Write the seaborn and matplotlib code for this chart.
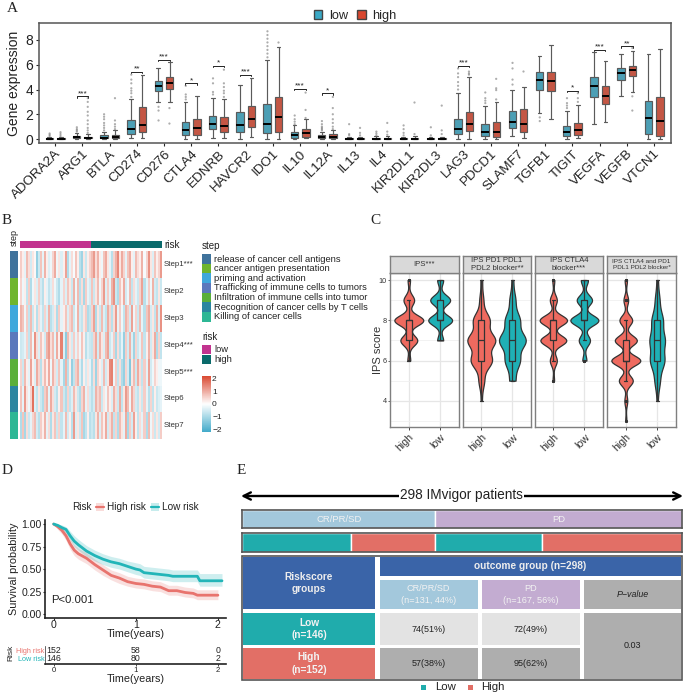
import numpy as np
import pandas as pd
import matplotlib
matplotlib.use("Agg")
import matplotlib.pyplot as plt
from matplotlib.colors import LinearSegmentedColormap, ListedColormap
from matplotlib.patches import Patch, Rectangle
import seaborn as sns

W, H = 685, 696

# ---- A: boxplots, [whisker low, q1, median, q3, whisker high]
genes = ["ADORA2A", "ARG1", "BTLA", "CD274", "CD276", "CTLA4", "EDNRB", "HAVCR2", "IDO1", "IL10", "IL12A", "IL13",
         "IL4", "KIR2DL1", "KIR2DL3", "LAG3", "PDCD1", "SLAMF7", "TGFB1", "TIGIT", "VEGFA", "VEGFB", "VTCN1"]
low_stats = [[0, .02, .04, .08, .16], [0, .08, .15, .25, .5], [0, .05, .12, .3, .6], [.1, .4, .8, 1.55, 3.2],
             [3.0, 3.9, 4.3, 4.7, 5.7], [0, .3, .7, 1.35, 3.0], [.1, .85, 1.2, 1.9, 3.3], [0, .55, 1.15, 2.15, 4.4],
             [0, .45, 1.2, 2.85, 6.4], [0, .1, .3, .55, 1.1], [0, .1, .2, .35, .6], [0, .01, .03, .07, .2],
             [0, .01, .03, .08, .22], [0, .01, .03, .07, .2], [0, .01, .03, .07, .2], [0, .4, .83, 1.64, 3.7],
             [0, .24, .54, 1.18, 2.7], [.24, .86, 1.37, 2.25, 3.95], [2.07, 4.0, 4.75, 5.4, 6.7], [0, .25, .56, 1.07, 2.3],
             [1.2, 3.4, 4.25, 5.0, 7.0], [3.5, 4.8, 5.3, 5.7, 6.9], [0, .37, 1.7, 3.1, 6.9]]
high_stats = [[0, .02, .04, .08, .16], [0, .05, .1, .2, .4], [0, .08, .18, .33, .7], [.1, .55, 1.1, 2.55, 5.2],
              [3.0, 4.05, 4.5, 5.0, 6.2], [0, .35, .9, 1.6, 3.45], [.1, .6, 1.05, 1.75, 3.2], [.2, 1.0, 1.65, 2.7, 4.9],
              [0, .6, 1.8, 3.4, 7.4], [.1, .2, .45, .8, 1.6], [0, .1, .2, .38, .7], [0, .01, .03, .07, .2],
              [0, .01, .03, .08, .24], [0, .01, .03, .07, .22], [0, .01, .03, .07, .2], [0, .67, 1.23, 2.2, 5.0],
              [0, .2, .6, 1.34, 3.0], [.1, .6, 1.18, 2.4, 4.2], [1.6, 3.9, 4.7, 5.45, 7.6], [.1, .35, .7, 1.26, 2.76],
              [1.4, 2.85, 3.5, 4.3, 6.33], [3.8, 5.05, 5.55, 5.93, 7.1], [0, .27, 1.48, 3.4, 7.27]]
low_fliers = [[.25, .35, .45], [.6, .7, .8, .95], [.7, .9, 1.1, 1.3, 1.6, 1.8, 2.0], [3.4, 3.7, 3.9, 4.1, 4.5, 4.8, 5.2],
              [2.6, 2.3, 1.5], [3.2, 3.4, 3.6, 4.3], [3.6, 3.8, 4.5, 4.9], [],
              [6.6, 6.9, 7.2, 7.5, 7.8, 8.1, 8.4, 8.7], [1.2, 1.4, 1.6, 1.9], [.7, .8, .9, 1.0, 1.2, 1.45], [.3, .4, 1.2],
              [.3, .45, .6], [.3, .5, .8, 1.1], [.3, .95], [4.0, 4.3, 4.6, 5.0, 5.3, 5.7],
              [2.9, 3.1, 3.3, 3.76], [4.4, 4.8, 5.7, 6.15], [1.75, 1.45], [2.5, 2.7, 2.9, 3.3],
              [], [], []]
high_fliers = [[.25, .4, .55], [.5, .7, .9, 1.2, 1.5, 1.9, 2.2, 2.6, 3.0, 3.3], [.8, 1.0, 1.2, 1.5, 3.3], [],
               [2.5, 1.25], [], [3.4, 3.7, 3.9, 4.2, 4.5, 5.6], [],
               [7.85], [1.7, 2.35, 3.75], [.8, 1.0, 1.3, 1.6, 2.0, 2.5, 3.4], [.3, .5, .9],
               [.35, .6, 1.3], [.4, 2.95], [.4, .7, 2.7], [5.2, 5.3, 5.45],
               [3.2, 3.95, 4.1, 4.86], [5.5], [], [3.0, 3.3, 3.7],
               [], [3.45, 2.3, 7.35], []]
bracket_genes = ["ARG1", "CD274", "CD276", "CTLA4", "EDNRB", "HAVCR2", "IL10", "IL12A", "LAG3", "TIGIT", "VEGFA", "VEGFB"]
bracket_heights = [3.45, 5.45, 6.4, 4.5, 5.9, 5.2, 4.05, 3.7, 5.9, 3.9, 7.2, 7.5]
bracket_labels = ["***", "**", "***", "*", "*", "***", "***", "*", "***", "*", "***", "**"]

# ---- B: heatmap, one row per step
step_names = ["Step1***", "Step2", "Step3", "Step4***", "Step5***", "Step6", "Step7"]
step_legend = ["release of cancer cell antigens", "cancer antigen presentation", "priming and activation",
               "Trafficking of immune cells to tumors", "Infiltration of immune cells into tumor",
               "Recognition of cancer cells by T cells", "Killing of cancer cells"]
step_colors = ["#3F739C", "#6FB52E", "#3FA8DC", "#5B78BC", "#5AAF3A", "#2A86A0", "#2DB795"]
step1 = [.6, .2, -.3, .8, .4, -.5, .3, .1, -1.2, -.6, .7, -.3, .9, .2, -.4, -.2, .5, 1.0, -.2, .3, -.4, .2, 1.1, -.9, -.3, .4, -.1, .7, .2, -.8, -1.1, .3, -.6, .2, .5,
         .8, 1.2, .4, .9, .2, -.2, .7, 1.0, .3, -.3, -.8, .5, .9, 1.4, .3, 1.0, .5, -.3, .7, 1.0, .2, -.3, .8, .4, .2, .9, -.1, .5, 1.3, .3, -.4, .7, .2, .5, 1.2]
step2 = [.5, -.2, .2, -.7, .6, -.9, -.2, .3, -.4, .6, -.5, -.8, .2, -.3, -.7, -.4, .4, -.2, -.6, -.9, -.3, .5, -.4, .7, .3, -.6, .9, -.2, .8, -.8, .4, -1.0, .6, -.3, -.5,
         .7, -.6, .3, .8, -.2, .5, 1.2, -.4, .6, -.3, .9, 1.3, -.6, -.9, .7, .2, 1.0, -.5, -.2, .8, -.7, .4, -.3, -.6, .5, 1.1, -.8, -.3, .6, -.2, .9, -.5, -.7, .3, -.6]
step3 = [.9, .7, -.2, .6, -.7, .8, -.6, .2, -.8, .4, -.3, -.7, .5, -.4, .9, -.8, -.5, .3, -.9, .6, -.3, .2, .7, -.4, .5, .8, -.6, -.2, .9, -.5, -.7, .3, .6, -.9, -.7,
         .5, 1.1, -.9, .3, -.6, .8, -.4, -.7, 1.0, .5, -.8, .4, 1.2, -.3, .6, -.2, -.7, .9, .6, -.5, 1.1, -.2, .5, -.6, .8, -.3, -.8, .7, 1.0, -.5, .3, -.7, .9, -.4, 1.3]
step4 = [-.6, -.5, -.3, .5, -.7, .8, -.2, 1.3, .4, -.4, .7, .2, -.5, .9, 1.2, .4, .8, -.3, 1.0, .2, 1.5, -.4, -1.3, .8, .3, -.5, .6, -.3, .5, -.2, .7, .2, -.8, -.4, -.6,
         -.7, .5, 1.0, -.5, .9, .3, -.4, .8, 1.1, -.6, -.3, .6, -1.0, .4, -.8, -.3, -1.2, .6, -.5, .9, -.4, -1.1, .5, -.6, -.3, .7, -.7, .2, .9, -.5, .3, 1.0, -.9, .5, -.7]
step5 = [.5, -.6, .8, .2, -.3, 1.1, .2, -.4, 1.0, .5, -.8, .3, .8, .2, 1.0, -.2, .9, .4, -.5, .7, -.3, -1.0, .9, -.8, .2, -1.2, -.7, .6, .9, -.4, -.9, .2, -.5, .3, -.3,
         -.9, .4, -1.1, .5, .2, -.4, .8, -.5, .3, 1.4, 1.5, -.2, .6, -.7, .4, -.9, -1.2, .5, -.5, -1.4, .3, .8, -.6, 1.0, .4, -.7, .6, -.3, 1.1, -.5, -.2, .5, .2, -.2, -.2]
step6 = [.7, -.3, 1.2, .3, -.2, .5, 1.7, -.4, -.7, .3, -.6, -.9, .6, .9, -.3, 1.0, .4, -.5, -.8, .2, .7, -.6, -.9, .5, -.7, -.4, .8, .3, -.6, -.9, .5, .9, -.3, .4, -.5,
         -.8, -.5, .9, .5, .8, -.6, .3, -.2, .7, .2, -.4, .9, .4, -.6, 1.0, -.7, .3, 1.2, .8, -.2, 1.0, .5, -.5, -.7, .3, -.6, .6, -.3, -.8, .5, -.7, .2, -.6, -.4, -.3]
step7 = [-.9, .7, -1.0, .4, -.6, -.3, .5, .8, -.5, -.8, .6, .2, .9, -.3, .4, -.9, .3, .7, -.6, .5, -.7, -.3, .8, -.5, .2, -.8, 1.2, -.4, .3, -.6, .7, -1.0, -.7, .2, -.8,
         -.6, -.8, .3, .9, -.4, .7, .2, 1.0, -.5, .4, .9, -.7, .5, -.9, .8, .3, -.3, 1.0, -1.0, .6, -.5, 1.1, .2, -.7, .4, -.3, .6, -.9, .8, -.2, .4, -.6, .3, -.5, .6]
risk_codes = [0] * 35 + [1] * 35

# ---- C: IPS scores, number of patients per integer score
ips_panels = ["IPS***", "IPS PD1 PDL1\nPDL2 blocker**", "IPS CTLA4\nblocker***", "IPS CTLA4 and PD1\nPDL1 PDL2 blocker*"]
ips_scores = [3, 4, 5, 6, 7, 8, 9, 10]
ips_high = [[0, 0, 0, 6, 35, 60, 22, 5], [0, 2, 10, 38, 50, 30, 7, 3], [0, 0, 3, 14, 52, 55, 14, 4], [2, 5, 24, 50, 38, 22, 8, 4]]
ips_low = [[0, 0, 0, 0, 15, 60, 50, 15], [0, 0, 10, 25, 45, 25, 10, 3], [0, 0, 0, 8, 22, 55, 30, 14], [0, 3, 14, 38, 40, 30, 12, 4]]
violin_width_high = [.92, .9, .88, .92]
violin_width_low = [.76, .86, .9, .5]

# ---- D: survival
km_time_high = [0, .05, .1, .15, .2, .25, .3, .4, .5, .6, .7, .8, .9, 1.0, 1.1, 1.2, 1.3, 1.4, 1.5, 1.6, 1.7, 1.75, 2.0]
km_high = [1, .97, .93, .87, .78, .71, .67, .62, .55, .49, .43, .40, .36, .34, .33, .31, .30, .26, .26, .24, .23, .21, .21]
km_high_up = [1, .99, .96, .92, .84, .77, .73, .68, .61, .55, .49, .46, .42, .40, .39, .37, .36, .32, .32, .30, .29, .27, .27]
km_high_lo = [1, .94, .89, .82, .72, .65, .61, .56, .49, .43, .38, .34, .31, .29, .28, .26, .25, .21, .21, .19, .18, .16, .16]
km_time_low = [0, .05, .1, .15, .2, .25, .3, .4, .5, .6, .7, .8, .9, 1.0, 1.05, 1.1, 1.2, 1.3, 1.4, 1.45, 1.75, 1.78, 2.05]
km_low = [1, .985, .96, .94, .87, .81, .77, .70, .65, .61, .58, .56, .53, .50, .49, .46, .45, .44, .43, .42, .42, .37, .37]
km_low_up = [1, 1, .99, .97, .92, .87, .83, .76, .71, .67, .64, .62, .59, .57, .56, .53, .52, .51, .50, .49, .49, .45, .45]
km_low_lo = [1, .97, .93, .90, .82, .75, .71, .64, .59, .55, .52, .50, .47, .44, .43, .40, .39, .38, .37, .36, .36, .31, .31]
risk_ticks = [0, 1, 2]
at_risk_high = [152, 58, 0]
at_risk_low = [146, 80, 2]

# ---- E: outcome counts
outcome_counts = [131, 167]
split_counts = [74, 57, 72, 95]

TEAL = "#20ACAC"
CORAL = "#E26F66"
BLUE = "#3A64A8"
LBLUE = "#A3C8DC"
PURPLE = "#C3ACD1"
GREY = "#AEAEAE"
LGREY = "#E3E3E3"


def px_ax(l, t, r, b):
    return fig.add_axes([l / W, 1 - b / H, (r - l) / W, (b - t) / H])


sns.set_theme(style="ticks")
plt.rcParams["font.family"] = ["Liberation Sans", "DejaVu Sans"]
plt.rcParams["axes.unicode_minus"] = True

fig = plt.figure(figsize=(W / 100, H / 100), dpi=100)

bg = px_ax(0, 0, W, H)
bg.set_xlim(0, W)
bg.set_ylim(H, 0)
bg.axis("off")

for letter, x, y in [("A", 7, 8), ("B", 2, 221), ("C", 370, 220), ("D", 2, 471), ("E", 237, 471)]:
    bg.text(x, y, letter, family="Liberation Serif", fontsize=11, ha="left", va="center", color="#222222")

# A ---------------------------------------------------------------
ax = px_ax(39, 23, 671, 143)
rows = []
for g, lo, hi in zip(genes, low_stats, high_stats):
    rows += [(g, "low", v) for v in lo] + [(g, "high", v) for v in hi]
box_df = pd.DataFrame(rows, columns=["gene", "group", "value"])
rows = []
for g, lo, hi in zip(genes, low_fliers, high_fliers):
    rows += [(g, "low", v) for v in lo] + [(g, "high", v) for v in hi]
flier_df = pd.DataFrame(rows, columns=["gene", "group", "value"])

sns.stripplot(data=flier_df, x="gene", y="value", hue="group", order=genes, hue_order=["low", "high"],
              palette=["#777777", "#777777"], dodge=True, jitter=False, size=1.6, alpha=.6, legend=False, ax=ax)
sns.boxplot(data=box_df, x="gene", y="value", hue="group", order=genes, hue_order=["low", "high"],
            palette=["#3BA9C6", "#D9472F"], whis=(0, 100), width=.84, gap=.35, linewidth=.85, linecolor="#5A5A5A",
            showfliers=False, medianprops={"color": "black", "linewidth": 1.4}, legend=False, ax=ax)
ax.set_xlim(-.59, len(genes) - 1 + .62)
ax.set_ylim(-.32, 9.37)
ax.set_yticks([0, 2, 4, 6, 8])
ax.set_xlabel("")
ax.set_ylabel("Gene expression", fontsize=10, labelpad=3, color="#222222")
ax.tick_params(axis="y", labelsize=10, length=2.5, width=.8, pad=1.5, labelcolor="#222222")
ax.tick_params(axis="x", labelsize=9.6, length=2.5, width=.8, pad=1, labelcolor="#222222")
plt.setp(ax.get_xticklabels(), rotation=45, ha="right", rotation_mode="anchor")
for s in ax.spines.values():
    s.set_color("#555555")
    s.set_linewidth(1.1)
    s.set_visible(True)
for g, h, lab in zip(bracket_genes, bracket_heights, bracket_labels):
    i = genes.index(g)
    ax.plot([i - .21, i - .21, i + .21, i + .21], [h - .12, h, h, h - .12], color="#222222", lw=.7)
    ax.text(i, h - .06, lab, ha="center", va="bottom", fontsize=6, color="#222222", linespacing=0)
ax.legend(handles=[Patch(fc="#3BA9C6", ec="#444444", label="low"), Patch(fc="#D9472F", ec="#444444", label="high")],
          ncol=2, loc="lower center", bbox_to_anchor=(.5, .955), frameon=False, fontsize=9.2, handlelength=.7,
          handleheight=.7, handletextpad=.5, columnspacing=.7, borderpad=0)

# B ---------------------------------------------------------------
heat = np.array([step1, step2, step3, step4, step5, step6, step7])
heat_df = pd.DataFrame(heat, index=step_names)
cmap = LinearSegmentedColormap.from_list("ryb", ["#3FA9C9", "#FFFFFF", "#D9472F"])
hm_ax = px_ax(20, 251, 161.7, 439.3)
cb_ax = px_ax(202, 375.7, 210.7, 432.3)
sns.heatmap(heat_df, cmap=cmap, vmin=-2.2, vmax=2.2, xticklabels=False, yticklabels=False, ax=hm_ax, cbar_ax=cb_ax)
hm_ax.set_xlabel("")
cb_ax.set_yticks([-2, -1, 0, 1, 2])
cb_ax.set_yticklabels(["\u22122", "\u22121", "0", "1", "2"])
cb_ax.tick_params(labelsize=6, length=2, width=.5, color="white", pad=1, direction="in", labelcolor="#222222")
for i, name in enumerate(step_names):
    hm_ax.text(71.2, i + .5, name, fontsize=5.7, va="center", ha="left", clip_on=False, color="#333333")

risk_ax = px_ax(20, 241, 161.7, 248.3)
sns.heatmap(pd.DataFrame([risk_codes]), cmap=ListedColormap(["#C2338F", "#0A6A6B"]), cbar=False,
            xticklabels=False, yticklabels=False, ax=risk_ax)
step_ax = px_ax(10.3, 251, 18, 439.3)
sns.heatmap(pd.DataFrame(np.arange(7).reshape(-1, 1)), cmap=ListedColormap(step_colors), cbar=False,
            xticklabels=False, yticklabels=False, ax=step_ax)
bg.text(164, 244.7, "risk", fontsize=7.2, va="center", color="#222222")
bg.text(14.7, 238, "step", fontsize=6.5, rotation=90, va="center", ha="center", color="#222222")

bg.text(202, 245.7, "step", fontsize=7, va="center", color="#222222")
for i, (name, c) in enumerate(zip(step_legend, step_colors)):
    yc = 259 + i * 9.62
    bg.add_patch(Rectangle((202, yc - 4.8), 9.5, 9.6, fc=c, ec="none"))
    bg.text(214.3, yc, name, fontsize=6.75, va="center", color="#222222")
bg.text(202, 336.7, "risk", fontsize=7, va="center", color="#222222")
for i, (name, c) in enumerate(zip(["low", "high"], ["#C2338F", "#0A6A6B"])):
    yc = 349.5 + i * 10
    bg.add_patch(Rectangle((202, yc - 4.8), 9.5, 9.6, fc=c, ec="none"))
    bg.text(214.3, yc, name, fontsize=6.75, va="center", color="#222222")

# C ---------------------------------------------------------------
panel_x = [(390, 459), (462.7, 531), (534.7, 603), (607, 676)]
strip_sizes = [5.6, 5.6, 5.6, 4.6]
for p, (x0, x1) in enumerate(panel_x):
    pax = px_ax(x0, 273, x1, 427)
    for grp, counts, col, vw in [("high", ips_high[p], "#EE6A5F", violin_width_high[p]),
                                 ("low", ips_low[p], "#1FB0B5", violin_width_low[p])]:
        scores = np.repeat(ips_scores, counts)
        sub = pd.DataFrame({"group": grp, "score": scores})
        q1, q3 = np.percentile(scores, [25, 75])
        sd = scores.std(ddof=1)
        bw = .9 * min(sd, (q3 - q1) / 1.34) * len(scores) ** -.2
        sns.violinplot(data=sub, x="group", y="score", order=["high", "low"], color=col, linecolor="#333333",
                       linewidth=.9, cut=0, inner=None, density_norm="width", width=vw, bw_method=bw / sd, saturation=1, ax=pax)
        sns.boxplot(data=sub, x="group", y="score", order=["high", "low"], color="#333333", fill=False, width=.2,
                    linewidth=.9, fliersize=1.2, ax=pax)
    pax.set_xlim(-.6, 1.6)
    pax.set_ylim(2.7, 10.35)
    pax.set_yticks([4, 6, 8, 10])
    pax.set_yticks([3, 5, 7, 9], minor=True)
    pax.grid(True, which="major", color="#E6E6E6", lw=.9)
    pax.grid(True, which="minor", color="#F0F0F0", lw=.6)
    pax.set_axisbelow(True)
    pax.set_xlabel("")
    pax.set_ylabel("")
    pax.tick_params(axis="x", labelsize=7.6, length=2, width=.6, pad=1.5, labelcolor="#333333")
    plt.setp(pax.get_xticklabels(), rotation=45, ha="right", rotation_mode="anchor")
    pax.tick_params(axis="y", which="both", length=0)
    if p == 0:
        pax.tick_params(axis="y", labelsize=5.2, length=1.5, width=.5, pad=1, labelcolor="#333333")
        pax.set_ylabel("IPS score", fontsize=8, labelpad=-3, color="#333333")
    else:
        pax.tick_params(axis="y", labelleft=False)
    for s in pax.spines.values():
        s.set_color("#7F7F7F")
        s.set_linewidth(1)
        s.set_visible(True)
    strip = px_ax(x0, 255.7, x1, 273)
    strip.set_facecolor("#D9D9D9")
    strip.set_xticks([])
    strip.set_yticks([])
    for s in strip.spines.values():
        s.set_color("#7F7F7F")
        s.set_linewidth(1)
        s.set_visible(True)
    strip.text(.5, .5, ips_panels[p], transform=strip.transAxes, ha="center", va="center", fontsize=strip_sizes[p],
               color="#333333", linespacing=1.15)

# D ---------------------------------------------------------------
kax = px_ax(45, 520, 225.7, 617.7)
for t, s, up, lo, col in [(km_time_high, km_high, km_high_up, km_high_lo, "#E8746E"),
                          (km_time_low, km_low, km_low_up, km_low_lo, "#22B5B8")]:
    kax.fill_between(t, lo, up, color=col, alpha=.22, lw=0)
    sns.lineplot(x=t, y=s, color=col, lw=2, errorbar=None, ax=kax)
kax.set_xlim(-.106, 2.095)
kax.set_ylim(-.04, 1.045)
kax.set_xticks(risk_ticks)
kax.set_yticks([0, .25, .5, .75, 1])
kax.set_yticklabels(["0.00", "0.25", "0.50", "0.75", "1.00"])
kax.tick_params(labelsize=7.6, length=1.5, width=.8, pad=.8, labelcolor="#222222")
kax.tick_params(axis="x", pad=.2)
kax.set_xlabel("Time(years)", fontsize=7.8, labelpad=-.5, color="#222222")
kax.set_ylabel("Survival probability", fontsize=7.8, labelpad=1.5, color="#222222")
kax.text(-.035, .16, "P<0.001", fontsize=8.2, va="center", color="#222222")
sns.despine(ax=kax)
for side in ["left", "bottom"]:
    kax.spines[side].set_linewidth(1.2)
    kax.spines[side].set_color("#222222")

bg.text(72, 507, "Risk", fontsize=7.2, va="center", color="#222222")
for x, name, col in [(96, "High risk", "#E8746E"), (151, "Low risk", "#22B5B8")]:
    bg.add_patch(Rectangle((x, 503), 8, 8, fc=col, alpha=.25, ec="none"))
    bg.plot([x, x + 8], [507, 507], color=col, lw=1.6)
    bg.text(x + 11.5, 507, name, fontsize=7.2, va="center", color="#222222")

tax = px_ax(45, 646, 225.7, 664)
tax.set_xlim(-.106, 2.095)
tax.set_ylim(0, 1)
for t, a, b in zip(risk_ticks, at_risk_high, at_risk_low):
    tax.text(t, .75, str(a), ha="center", va="center", fontsize=6.3, color="#222222")
    tax.text(t, .28, str(b), ha="center", va="center", fontsize=6.3, color="#222222")
tax.set_xticks(risk_ticks)
tax.set_yticks([.28, .75])
tax.set_yticklabels(["Low risk", "High risk"])
tax.get_yticklabels()[0].set_color("#22B5B8")
tax.get_yticklabels()[1].set_color("#E8746E")
tax.tick_params(axis="y", labelsize=5.2, length=0, pad=.5)
tax.tick_params(axis="x", labelsize=5.6, length=1.5, width=.6, pad=1, labelcolor="#222222")
tax.set_xlabel("Time(years)", fontsize=7.8, labelpad=0, color="#222222")
tax.set_ylabel("")
sns.despine(ax=tax)
tax.spines["bottom"].set_linewidth(1.2)
tax.spines["bottom"].set_color("#222222")
tax.spines["left"].set_linewidth(.5)
bg.text(11, 653, "Risk", fontsize=6, rotation=90, ha="center", va="center", color="#222222")

# E ---------------------------------------------------------------
bg.annotate("", xy=(241, 496), xytext=(683, 496), arrowprops=dict(arrowstyle="<->", color="black", lw=1.7, mutation_scale=13, shrinkA=0, shrinkB=0))
bg.text(461.5, 495, "298 IMvigor patients", fontsize=9.8, ha="center", va="center", color="#222222",
        bbox=dict(fc="white", ec="none", pad=.6))


def frame(a):
    a.set_xlim(0, sum(outcome_counts))
    a.set_ylim(-.5, .5)
    a.set_xticks([])
    a.set_yticks([])
    for s in a.spines.values():
        s.set_color("#555555")
        s.set_linewidth(1.2)
        s.set_visible(True)


oax = px_ax(242.3, 510, 681.7, 528.3)
left = 0
for n, c, lab in zip(outcome_counts, [LBLUE, PURPLE], ["CR/PR/SD", "PD"]):
    oax.barh(0, n, left=left, height=1, color=c)
    oax.text(left + n / 2, 0, lab, ha="center", va="center", fontsize=6.8, color="#F2F2F2")
    left += n
frame(oax)

sax = px_ax(242.3, 533.3, 681.7, 551.7)
left = 0
for n, c in zip(split_counts, [TEAL, CORAL, TEAL, CORAL]):
    sax.barh(0, n, left=left, height=1, color=c)
    left += n
frame(sax)


def cell(x0, y0, x1, y1, color, text="", tcolor="#222222", size=6.5, weight="normal", style="normal"):
    # coordinates are the crop's, 3x from (235, 455)
    l, r, t, b = 235 + x0 / 3, 235 + x1 / 3, 455 + y0 / 3, 455 + y1 / 3
    bg.add_patch(Rectangle((l, t), r - l, b - t, fc=color, ec="none"))
    if text:
        bg.text((l + r) / 2, (t + b) / 2, text, ha="center", va="center", fontsize=size, color=tcolor,
                fontweight=weight, style=style, linespacing=1.35)


cell(24, 306, 420, 462, BLUE, "Riskscore\ngroups", "#EDEDED", 7.3, "bold")
cell(434, 306, 1338, 362, BLUE, "outcome group (n=298)", "#EDEDED", 7.3, "bold")
cell(434, 374, 728, 462, LBLUE, "CR/PR/SD\n(n=131, 44%)", "#F2F2F2", 6.6)
cell(740, 374, 1034, 462, PURPLE, "PD\n(n=167, 56%)", "#F2F2F2", 6.6)
cell(1046, 374, 1338, 462, GREY, "P\u2212value", "#222222", 6.4, style="italic")
cell(24, 474, 420, 570, TEAL, "Low\n(n=146)", "#F2F2F2", 7.3, "bold")
cell(24, 580, 420, 672, CORAL, "High\n(n=152)", "#F2F2F2", 7.3, "bold")
cell(434, 474, 728, 570, LGREY, "74(51%)")
cell(740, 474, 1034, 570, LGREY, "72(49%)")
cell(434, 580, 728, 672, GREY, "57(38%)")
cell(740, 580, 1034, 672, GREY, "95(62%)")
cell(1046, 474, 1338, 672, GREY, "0.03")
bg.add_patch(Rectangle((242.3, 556), 439.4, 124, fc="none", ec="#555555", lw=1.2))

for x, name, col in [(424, "Low", TEAL), (470.5, "High", CORAL)]:
    bg.add_patch(Rectangle((x - 2.5, 685), 5, 5, fc=col, ec="none"))
    bg.text(x + 11, 687.5, name, fontsize=8.2, va="center", color="#222222")

fig.savefig("out.png", dpi=100)
